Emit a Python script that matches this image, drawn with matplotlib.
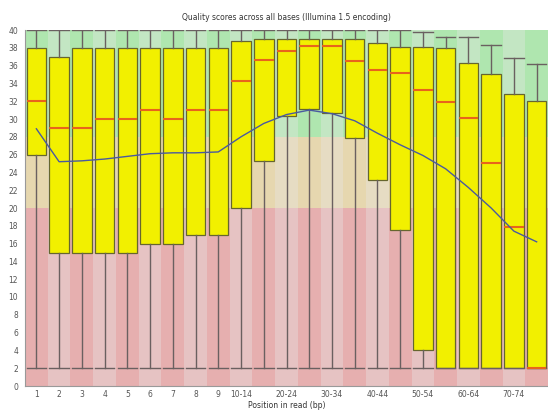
#!/usr/bin/env python3
import matplotlib
matplotlib.use('Agg')
import matplotlib.pyplot as plt

# read positions (bins) along the read
positions = ['1', '2', '3', '4', '5', '6', '7', '8', '9',
             '10-14', '15-19', '20-24', '25-29', '30-34', '35-39', '40-44',
             '45-49', '50-54', '55-59', '60-64', '65-69', '70-74', '75-76']
shown_labels = {'1', '2', '3', '4', '5', '6', '7', '8', '9', '10-14', '20-24',
                '30-34', '40-44', '50-54', '60-64', '70-74'}

# per-position quality stats
q_median = [32, 29, 29, 30, 30, 31, 30, 31, 31, 34.3, 36.6, 37.6, 38.2, 38.2,
            36.5, 35.5, 35.2, 33.3, 31.9, 30.1, 25.1, 17.9, 2]
q_lower = [26, 15, 15, 15, 15, 16, 16, 17, 17, 20, 25.3, 30.3, 31.1, 30.7,
           27.9, 23.2, 17.5, 4.1, 2, 2, 2, 2, 2]
q_upper = [38, 37, 38, 38, 38, 38, 38, 38, 38, 38.8, 39, 39, 39, 39,
           39, 38.5, 38.1, 38.1, 38, 36.3, 35.1, 32.8, 32]
whisk_lo = [2] * 23
whisk_hi = [40, 40, 40, 40, 40, 40, 40, 40, 40, 40, 40, 40, 40, 40,
            40, 40, 40, 39.8, 39.2, 39.2, 38.3, 36.9, 36.2]
q_mean = [28.9, 25.2, 25.3, 25.5, 25.8, 26.1, 26.2, 26.2, 26.3, 28.0, 29.5,
          30.5, 31.0, 30.6, 29.8, 28.4, 27.1, 25.9, 24.4, 22.3, 20.0, 17.4, 16.2]

# background quality zones (lo, hi, dark colour, light colour)
zones = [(0, 20, '#e6afaf', '#e6c3c3'),
         (20, 28, '#e6d7af', '#e6dcc3'),
         (28, 40, '#afe6af', '#c3e6c3')]

fig = plt.figure(figsize=(5.48, 4.12), dpi=100)
ax = fig.add_axes([25 / 548, 26 / 412, 523 / 548, 356 / 412])

x = list(range(len(positions)))
for lo, hi, dark, light in zones:
    cols = [dark if i % 2 == 0 else light for i in x]
    ax.bar(x, hi - lo, bottom=lo, width=1.0, color=cols, linewidth=0, zorder=0)

stats = []
for i in x:
    stats.append({'med': q_median[i], 'q1': q_lower[i], 'q3': q_upper[i],
                  'whislo': whisk_lo[i], 'whishi': whisk_hi[i], 'fliers': []})

ax.bxp(stats, positions=x, widths=0.86, capwidths=0.86, patch_artist=True,
       showfliers=False, manage_ticks=False,
       boxprops=dict(facecolor='#f2f000', edgecolor='#66662e', linewidth=0.9),
       whiskerprops=dict(color='#6a6060', linewidth=1.0),
       capprops=dict(color='#6a6060', linewidth=1.0),
       medianprops=dict(color='#e8641c', linewidth=1.5), zorder=2)

ax.plot(x, q_mean, color='#4a5aa0', linewidth=1.0, zorder=3)

ax.set_xlim(-0.5, len(positions) - 0.5)
ax.set_ylim(0, 40)
ax.set_yticks(range(0, 41, 2))
ax.set_xticks(x)
ax.set_xticklabels([p if p in shown_labels else '' for p in positions])
ax.tick_params(axis='both', length=0, labelsize=5.5, colors='#555555')
ax.tick_params(axis='x', pad=3)
ax.tick_params(axis='y', pad=5)

for side in ('top', 'right'):
    ax.spines[side].set_visible(False)
for side in ('left', 'bottom'):
    ax.spines[side].set_color('#999999')
    ax.spines[side].set_linewidth(0.8)

ax.set_title('Quality scores across all bases (Illumina 1.5 encoding)',
             fontsize=5.5, color='#333333', pad=7)
ax.set_xlabel('Position in read (bp)', fontsize=5.5, color='#333333', labelpad=1)

fig.savefig('out.png', dpi=100)
